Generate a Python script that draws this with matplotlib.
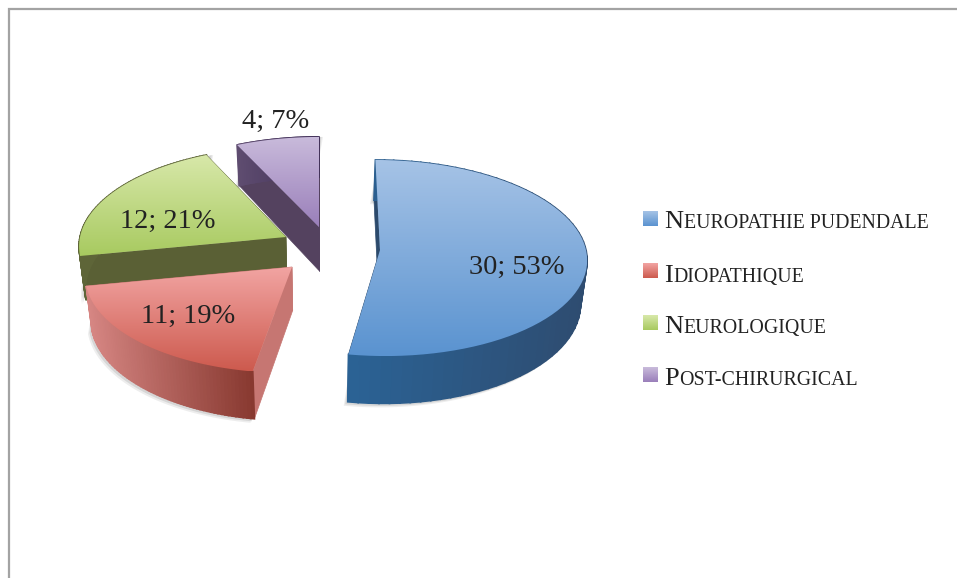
import numpy as np
import matplotlib
matplotlib.use('Agg')
import matplotlib.pyplot as plt
from matplotlib.patches import Polygon
from matplotlib.colors import to_rgb

categories = [('N', 'EUROPATHIE PUDENDALE'), ('I', 'DIOPATHIQUE'), ('N', 'EUROLOGIQUE'), ('P', 'OST-CHIRURGICAL')]
values = [30, 11, 12, 4]
label_pos = [(517, 267), (188, 316), (168, 221), (276, 121)]

# colours per slice: top of the face, bottom of the face, wall left, wall right, radial wall
face_top = ['#a6c3e6', '#f2a5a3', '#d8e8aa', '#c9bbdb']
face_bottom = ['#5a93d0', '#cd5a4e', '#a8ca60', '#9a7fba']
wall_left = ['#2b6295', '#d68683', '#5e6538', '#5f4d70']
wall_right = ['#2e4c70', '#87382f', '#5e6538', '#402f58']
radial = ['#2c4a6c', '#c67672', '#5a6035', '#54425f']

# apex of each exploded slice, in pixels
apex = [(380, 250), (292, 267), (286, 237), (319, 227)]
vx = 319       # vanishing axis
rx = 206
ry = 97.4
persp = 0.0816
depth = 43.5
shrink = 0.975

fig = plt.figure(figsize=(9.57, 5.78), dpi=100)
ax = fig.add_axes([0, 0, 1, 1])
ax.set_xlim(0, 957)
ax.set_ylim(578, 0)
ax.axis('off')

# page frame
ax.plot([8.5, 8.5, 957], [578, 9, 9], color='#a3a3a3', lw=1.6, solid_joinstyle='miter')


def project(th, r, ap):
    # th is clockwise from the top of the pie, r is 0 at the apex and 1 on the rim
    X = r * np.sin(th)
    Y = -r * np.cos(th)
    s = 1 / (1 - persp * Y)
    x = vx + (ap[0] - vx + rx * X) * s
    y = ap[1] + ry * Y * s
    xb = vx + (x - vx) * shrink
    yb = y + depth * s
    return x, y, xb, yb


def mix(c1, c2, t):
    c1 = np.array(to_rgb(c1))
    c2 = np.array(to_rgb(c2))
    return tuple(c1 + (c2 - c1) * t)


fracs = np.array(values) / sum(values)
edges = np.concatenate([[0], np.cumsum(fracs)]) * 2 * np.pi

# back to front
order = [3, 2, 0, 1]
for i in order:
    t = np.linspace(edges[i], edges[i + 1], 70)
    ap = apex[i]
    x, y, xb, yb = project(t, 1, ap)
    z = 2 + order.index(i) * 2

    # soft shadow
    for off, alpha in [(4, 0.10), (2.5, 0.15)]:
        sx = np.concatenate([xb - off, xb[::-1] + off])
        sy = np.concatenate([yb + off, y[::-1]])
        ax.add_patch(Polygon(np.column_stack([sx, sy]), fc='#555555', ec='none', alpha=alpha, zorder=z - 1))

    # radial walls
    for tt in [t[0], t[-1]]:
        ex, ey, exb, eyb = project(tt, 1, ap)
        ax0, ay0, axb, ayb = project(tt, 0, ap)
        pts = [(ax0, ay0), (ex, ey), (exb, eyb), (axb, ayb)]
        ax.add_patch(Polygon(pts, fc=radial[i], ec=radial[i], lw=0.5, zorder=z))

    # outer wall in narrow strips, lit from the left
    xmin, xmax = x.min(), x.max()
    for j in range(len(t) - 1):
        c = mix(wall_left[i], wall_right[i], ((x[j] + x[j + 1]) / 2 - xmin) / (xmax - xmin))
        pts = [(x[j], y[j]), (x[j + 1], y[j + 1]), (xb[j + 1], yb[j + 1]), (xb[j], yb[j])]
        ax.add_patch(Polygon(pts, fc=c, ec=c, lw=1.2, zorder=z))

    # top face with vertical gradient
    px = np.concatenate([[ap[0]], x])
    py = np.concatenate([[ap[1]], y])
    poly = Polygon(np.column_stack([px, py]), fc='none', ec='none', zorder=z + 1)
    ax.add_patch(poly)
    n = 200
    grad = np.array([mix(face_top[i], face_bottom[i], k / (n - 1)) for k in range(n)]).reshape(n, 1, 3)
    im = ax.imshow(grad, extent=[px.min(), px.max(), py.max(), py.min()], aspect='auto', zorder=z + 1, interpolation='bilinear')
    im.set_clip_path(poly)

ax.set_xlim(0, 957)
ax.set_ylim(578, 0)

# data labels
total = sum(values)
for v, pos in zip(values, label_pos):
    ax.text(pos[0], pos[1], f'{v}; {round(100 * v / total)}%', fontsize=20.5, family='Liberation Serif',
            color='#222222', ha='center', va='center', zorder=30)

# legend, small caps are built from two runs of text
swatch_y = [211, 263, 315, 367]
base_y = [228, 282, 333, 385]
fig.canvas.draw()
renderer = fig.canvas.get_renderer()
for i in range(4):
    n = 60
    grad = np.array([mix(face_top[i], face_bottom[i], k / (n - 1)) for k in range(n)]).reshape(n, 1, 3)
    ax.imshow(grad, extent=[643, 658, swatch_y[i] + 15, swatch_y[i]], aspect='auto', zorder=5)
    big = ax.text(664, base_y[i], categories[i][0], fontsize=19, family='Liberation Serif', color='#222222', va='baseline', ha='left')
    bb = big.get_window_extent(renderer)
    ax.text(bb.x1 + 0.5, base_y[i], categories[i][1], fontsize=14.3, family='Liberation Serif', color='#222222', va='baseline', ha='left')

ax.set_xlim(0, 957)
ax.set_ylim(578, 0)

fig.savefig('out.png', dpi=100, facecolor='white')
